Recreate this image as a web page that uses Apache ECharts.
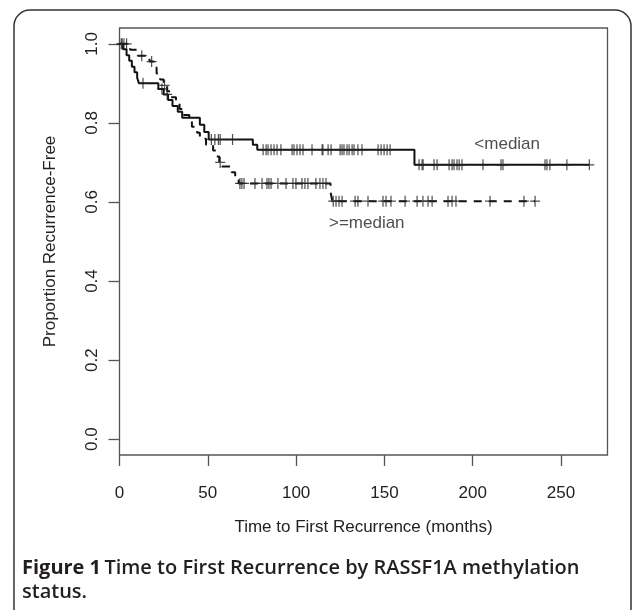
<!DOCTYPE html>
<html><head><meta charset="utf-8">
<script src="https://cdn.jsdelivr.net/npm/echarts@6/dist/echarts.min.js"></script>
<style>html,body{margin:0;padding:0;background:#fff}#c{width:632px;height:610px}</style>
</head><body><div id="c"></div>
<script>
// ---- tick labels ----
const xTicks = [0, 50, 100, 150, 200, 250];
const yTicks = [0, 0.2, 0.4, 0.6, 0.8, 1.0];

// ---- "<median" group (solid): event times and survival after each event ----
const lowTimes = [0, 2, 4, 5.5, 7, 8.5, 10, 11, 22, 25, 27.5, 30, 33, 35.5, 45.5, 48, 50.5, 75.5, 78, 167];
const lowSurv  = [1, 0.986, 0.971, 0.957, 0.942, 0.928, 0.914, 0.90, 0.886, 0.872, 0.858, 0.843, 0.828, 0.813, 0.795, 0.777, 0.758, 0.745, 0.732, 0.694];
const lowCensor = [1, 1.5, 13.3, 24, 27, 52, 54, 56, 57, 64, 81.3, 83.0, 84.1, 85.8, 87.5, 89.2, 91.4, 97.7, 98.8, 100.5, 102.2, 103.9, 109.0, 114.7, 115.2, 118.1, 119.8, 124.9, 126.0, 127.1, 128.8, 130.0, 131.7, 132.8, 135.0, 137.3, 146.4, 148.1, 149.8, 151.5, 153.2, 169.6, 171.3, 171.9, 178.1, 179.8, 186.6, 188.3, 189.4, 191.1, 192.3, 193.9, 205.8, 216.0, 217.1, 240.9, 242.0, 243.7, 253.3, 266];
const lowEnd = 266;

// ---- ">=median" group (dashed) ----
const highTimes = [0, 6, 10, 17, 19.5, 21, 23, 25, 27, 29, 32, 34, 36, 39.5, 41, 44, 45.5, 49, 53, 55, 56.5, 58, 63.5, 65.5, 67.5, 119.5, 120.5];
const highSurv  = [1, 0.985, 0.97, 0.955, 0.94, 0.925, 0.91, 0.895, 0.88, 0.865, 0.85, 0.835, 0.82, 0.805, 0.79, 0.775, 0.76, 0.745, 0.73, 0.715, 0.70, 0.69, 0.675, 0.662, 0.647, 0.625, 0.602];
const highCensor = [2.5, 4, 12.6, 18.2, 25.5, 57, 68.2, 69.3, 70.5, 76.7, 80.7, 83.5, 84.6, 85.8, 89.7, 94.3, 98.2, 99.9, 103.3, 105.0, 106.7, 111.2, 113.5, 115.2, 116.9, 121, 122.6, 124.3, 126.0, 133.4, 135.0, 140.7, 149.2, 150.9, 153.7, 161.7, 168.5, 171.8, 174.7, 177.0, 186.0, 188.3, 190.5, 209.8, 229, 235.3];
const highEnd = 235.3;

// ---- curve labels (text, anchor in data units) ----
const groupNames = ['<median', '>=median'];
const lowLabelAt = [219.5, 0.747];
const highLabelAt = [140, 0.545];

function stepAt(times, surv, t) {
  let s = surv[0];
  for (let i = 0; i < times.length; i++) { if (times[i] <= t) s = surv[i]; }
  return s;
}
function curve(times, surv, end) {
  const d = times.map((t, i) => [t, surv[i]]);
  d.push([end, surv[surv.length - 1]]);
  return d;
}
function censors(times, surv, cs) { return cs.map(t => [t, stepAt(times, surv, t)]); }

const FONT = 'Liberation Sans';
const plusPath = 'path://M4.4,0h1.2v11h-1.2z M0,4.9h10v1.2h-10z';

const chart = echarts.init(document.getElementById('c'), null, {renderer: 'canvas'});
chart.setOption({
  backgroundColor: '#fff',
  animation: false,
  grid: {left: 119.5, right: 24.5, top: 28, bottom: 155, show: true, borderColor: '#555', borderWidth: 1.3, backgroundColor: 'transparent'},
  xAxis: {
    type: 'value', min: 0, max: 276.3,
    axisLine: {show: false, onZero: false},
    splitLine: {show: false},
    axisTick: {show: true, customValues: xTicks, length: 11, lineStyle: {color: '#555', width: 1.3}},
    axisLabel: {customValues: xTicks, margin: 30, fontSize: 17, color: '#222', fontFamily: FONT},
    name: 'Time to First Recurrence (months)', nameLocation: 'middle', nameGap: 64,
    nameTextStyle: {fontSize: 17, color: '#222', fontFamily: FONT}
  },
  yAxis: {
    type: 'value', min: -0.04, max: 1.04,
    axisLine: {show: false, onZero: false},
    splitLine: {show: false},
    axisTick: {show: true, customValues: yTicks, length: 11, lineStyle: {color: '#555', width: 1.3}},
    axisLabel: {customValues: yTicks, rotate: 90, margin: 19, fontSize: 17, color: '#222', fontFamily: FONT,
      formatter: v => Number(v).toFixed(1)},
    name: 'Proportion Recurrence-Free', nameLocation: 'middle', nameGap: 61,
    nameTextStyle: {fontSize: 17, color: '#222', fontFamily: FONT}
  },
  series: [
    {type: 'line', step: 'end', data: curve(lowTimes, lowSurv, lowEnd), showSymbol: false, symbol: 'none',
     lineStyle: {color: '#111', width: 2}, z: 3},
    {type: 'line', step: 'end', data: curve(highTimes, highSurv, highEnd), showSymbol: false, symbol: 'none',
     lineStyle: {color: '#111', width: 2, type: [8, 7]}, z: 3},
    {type: 'scatter', data: censors(lowTimes, lowSurv, lowCensor), symbol: plusPath, symbolSize: [10, 11],
     itemStyle: {color: '#222'}, z: 4},
    {type: 'scatter', data: censors(highTimes, highSurv, highCensor), symbol: plusPath, symbolSize: [10, 11],
     itemStyle: {color: '#222'}, z: 4},
    {type: 'scatter', data: [{value: lowLabelAt, name: groupNames[0]}, {value: highLabelAt, name: groupNames[1]}],
     symbolSize: 1, itemStyle: {color: 'rgba(0,0,0,0)'}, silent: true,
     label: {show: true, position: 'inside', formatter: p => p.name, fontSize: 17, color: '#222', fontFamily: FONT}}
  ],
  graphic: [
    {type: 'rect', shape: {x: 14, y: 10, width: 617, height: 640, r: 16}, style: {fill: 'none', stroke: '#333', lineWidth: 1.5}, z: -1},
    {type: 'text', left: 22, top: 558, style: {
      text: '{b|Figure 1} {n|Time to First Recurrence by RASSF1A methylation}\n{n|status.}',
      rich: {
        b: {fontFamily: 'Open Sans', fontWeight: 700, fontSize: 20, fill: '#231f20', lineHeight: 24},
        n: {fontFamily: 'Open Sans', fontWeight: 600, fontSize: 20, fill: '#231f20', lineHeight: 24}
      }
    }}
  ]
});
</script></body></html>
